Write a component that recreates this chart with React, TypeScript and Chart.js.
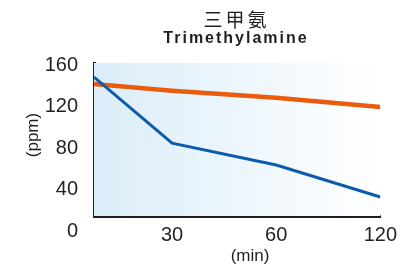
import React, { useEffect, useRef } from "react";
import { Chart, registerables } from "chart.js";

Chart.register(...registerables);

// ---- data ----
const titleZh = "三甲氨";
const titleEn = "Trimethylamine";
const yAxisTitle = "(ppm)";
const xAxisTitle = "(min)";
// sample positions along the time axis (first sample sits at the axis origin)
const samplePositions = [0.25, 1, 2, 3];
const xTickPositions = [1, 2, 3];
const xTickLabels = ["30", "60", "120"];
const yTickValues = [0, 40, 80, 120, 160];
const blueSeries = [148.5, 85, 64, 33.3];
const orangeSeries = [141.8, 135.4, 128.7, 119.7];

const TEXT = "#231f20";
const FONT = "'Liberation Sans', Arial, Helvetica, sans-serif";

const decorPlugin = {
  id: "decor",
  beforeDatasetsDraw(chart: any) {
    const { ctx, chartArea } = chart;
    const { left, right, top, bottom } = chartArea;
    ctx.save();
    const g = ctx.createLinearGradient(left, 0, right, 0);
    g.addColorStop(0, "#dbedf9");
    g.addColorStop(0.5, "#edf6fc");
    g.addColorStop(1, "#ffffff");
    ctx.fillStyle = g;
    ctx.fillRect(left, top, right - left, bottom - top);
    ctx.restore();
  },
  afterDraw(chart: any) {
    const { ctx } = chart;
    ctx.save();
    ctx.fillStyle = TEXT;
    ctx.textAlign = "left";
    ctx.textBaseline = "middle";
    const cx = 235;
    // Chinese title
    ctx.font = "19px 'Noto Sans CJK SC', sans-serif";
    (ctx as any).letterSpacing = "3px";
    let w = ctx.measureText(titleZh).width - 3;
    ctx.fillText(titleZh, cx - w / 2, 20);
    // English title
    ctx.font = `bold 16px ${FONT}`;
    (ctx as any).letterSpacing = "2px";
    w = ctx.measureText(titleEn).width - 2;
    ctx.fillText(titleEn, cx - w / 2, 39);
    (ctx as any).letterSpacing = "0px";
    // x axis title
    ctx.textAlign = "center";
    ctx.font = `17px ${FONT}`;
    ctx.fillText(xAxisTitle, 250, 256);
    // y axis title
    ctx.translate(33, 135);
    ctx.rotate(-Math.PI / 2);
    ctx.fillText(yAxisTitle, 0, 0);
    ctx.restore();
  },
};

export default function App() {
  const ref = useRef<HTMLCanvasElement | null>(null);
  useEffect(() => {
    document.body.style.margin = "0";
    const canvas = ref.current!;
    const chart = new Chart(canvas, {
      type: "line",
      data: {
        datasets: [
          {
            label: "blue",
            data: samplePositions.map((x, i) => ({ x, y: blueSeries[i] })),
            borderColor: "#0b5cad",
            borderWidth: 3,
            pointRadius: 0,
            tension: 0,
          },
          {
            label: "orange",
            data: samplePositions.map((x, i) => ({ x, y: orangeSeries[i] })),
            borderColor: "#ea5b0c",
            borderWidth: 4.5,
            pointRadius: 0,
            tension: 0,
          },
        ],
      },
      options: {
        animation: false,
        responsive: false,
        maintainAspectRatio: false,
        layout: { padding: { top: 63, right: 15, left: 0, bottom: 0 } },
        plugins: {
          legend: { display: false },
          tooltip: { enabled: false },
          title: { display: false },
        },
        scales: {
          x: {
            type: "linear",
            min: samplePositions[0],
            max: 3,
            afterBuildTicks: (s: any) => {
              s.ticks = xTickPositions.map((v) => ({ value: v }));
            },
            afterFit: (s: any) => {
              s.height = 52;
            },
            ticks: {
              autoSkip: false,
              maxRotation: 0,
              padding: 7,
              color: TEXT,
              font: { size: 20, family: FONT },
              callback: (_v: any, i: number) => xTickLabels[i],
            },
            grid: { display: false, drawTicks: false },
            border: { display: true, color: TEXT, width: 3 },
          },
          y: {
            type: "linear",
            min: 15,
            max: 162,
            afterBuildTicks: (s: any) => {
              s.ticks = yTickValues.map((v) => ({ value: v }));
            },
            afterFit: (s: any) => {
              s.width = 94;
            },
            ticks: {
              autoSkip: false,
              padding: 16,
              color: TEXT,
              font: { size: 20, family: FONT },
              callback: (v: any) => String(v),
            },
            grid: { display: false, drawTicks: false },
            border: { display: true, color: TEXT, width: 3 },
          },
        },
      },
      plugins: [decorPlugin],
    });
    return () => chart.destroy();
  }, []);
  return (
    <div style={{ width: 404, height: 268 }}>
      <canvas ref={ref} width={404} height={268} style={{ display: "block" }} />
    </div>
  );
}
